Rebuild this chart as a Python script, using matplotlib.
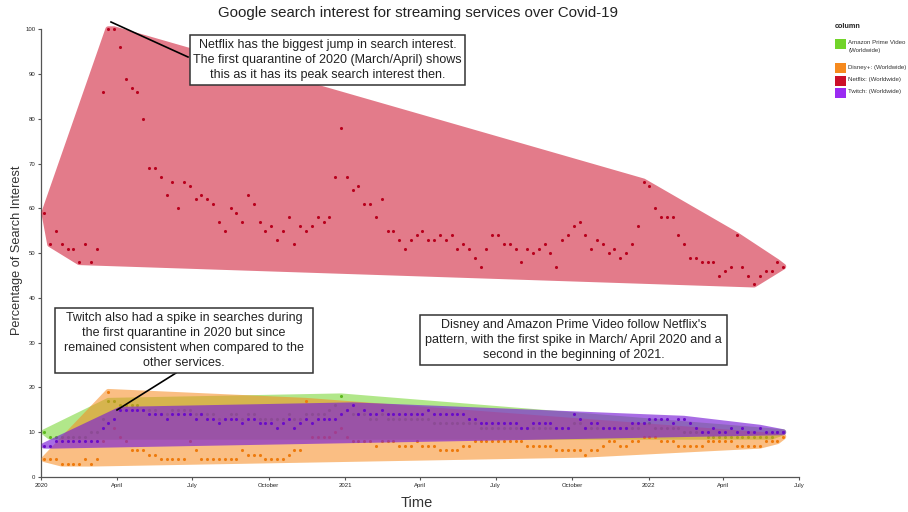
import numpy as np
import pandas as pd
import matplotlib
matplotlib.use("Agg")
import matplotlib.pyplot as plt
import matplotlib.dates as mdates
from matplotlib.patches import Polygon, Rectangle

plt.rcParams['font.family'] = ['Liberation Sans', 'DejaVu Sans']

# weekly Google Trends values, first week starting 2020-01-05
first_week = '2020-01-05'

amazon = [10, 9, 9, 9, 9, 9, 9, 9, 10, 10, 13, 17,
          17, 16, 16, 16, 16, 15, 15, 15, 14, 14, 15, 15,
          15, 15, 14, 14, 14, 14, 13, 13, 14, 14, 13, 14,
          14, 13, 13, 13, 13, 13, 14, 13, 13, 14, 14, 14,
          14, 15, 16, 18, 15, 14, 14, 14, 13, 13, 14, 13,
          13, 13, 13, 13, 13, 13, 13, 12, 12, 12, 12, 12,
          12, 12, 12, 11, 11, 11, 11, 11, 11, 11, 11, 11,
          11, 11, 11, 11, 11, 11, 11, 12, 12, 11, 11, 11,
          11, 11, 11, 11, 11, 11, 11, 12, 12, 11, 11, 11,
          11, 11, 10, 10, 10, 10, 9, 9, 9, 9, 9, 9,
          9, 9, 9, 9, 9, 9, 10, 10]

disney = [4, 4, 4, 3, 3, 3, 3, 4, 3, 4, 8, 19,
          11, 9, 8, 6, 6, 6, 5, 5, 4, 4, 4, 4,
          4, 8, 6, 4, 4, 4, 4, 4, 4, 4, 6, 5,
          5, 5, 4, 4, 4, 4, 5, 6, 6, 17, 9, 9,
          9, 9, 10, 11, 9, 8, 8, 8, 8, 7, 8, 8,
          8, 7, 7, 7, 8, 7, 7, 7, 6, 6, 6, 6,
          7, 7, 8, 8, 8, 8, 8, 8, 8, 8, 8, 7,
          7, 7, 7, 7, 6, 6, 6, 6, 6, 5, 6, 6,
          7, 8, 8, 7, 7, 8, 8, 9, 9, 9, 8, 8,
          8, 7, 7, 7, 7, 7, 8, 8, 8, 8, 8, 7,
          7, 7, 7, 7, 8, 8, 8, 9]

netflix = [59, 52, 55, 52, 51, 51, 48, 52, 48, 51, 86, 100,
           100, 96, 89, 87, 86, 80, 69, 69, 67, 63, 66, 60,
           66, 65, 62, 63, 62, 61, 57, 55, 60, 59, 57, 63,
           61, 57, 55, 56, 53, 55, 58, 52, 56, 55, 56, 58,
           57, 58, 67, 78, 67, 64, 65, 61, 61, 58, 62, 55,
           55, 53, 51, 53, 54, 55, 53, 53, 54, 53, 54, 51,
           52, 51, 49, 47, 51, 54, 54, 52, 52, 51, 48, 51,
           50, 51, 52, 50, 47, 53, 54, 56, 57, 54, 51, 53,
           52, 50, 51, 49, 50, 52, 56, 66, 65, 60, 58, 58,
           58, 54, 52, 49, 49, 48, 48, 48, 45, 46, 47, 54,
           47, 45, 43, 45, 46, 46, 48, 47]

twitch = [7, 7, 8, 8, 8, 8, 8, 8, 8, 8, 11, 12,
          13, 15, 15, 15, 15, 15, 14, 14, 14, 13, 14, 14,
          14, 14, 13, 14, 13, 13, 12, 13, 13, 13, 12, 13,
          13, 12, 12, 12, 11, 12, 13, 11, 12, 13, 12, 13,
          13, 13, 13, 14, 15, 16, 14, 15, 14, 14, 15, 14,
          14, 14, 14, 14, 14, 14, 15, 14, 14, 14, 14, 14,
          14, 13, 13, 12, 12, 12, 12, 12, 12, 12, 11, 11,
          12, 12, 12, 12, 11, 11, 11, 14, 13, 11, 12, 12,
          11, 11, 11, 11, 11, 12, 12, 12, 13, 13, 13, 13,
          12, 13, 13, 12, 11, 10, 10, 11, 10, 10, 11, 10,
          11, 10, 10, 11, 10, 10, 10, 10]

labels = ['Amazon Prime Video\n(Worldwide)', 'Disney+: (Worldwide)',
          'Netflix: (Worldwide)', 'Twitch: (Worldwide)']
fill_colors = ['#72d42a', '#f68a1e', '#cc0f2a', '#7a1fd6']
fill_alpha = [0.55, 0.55, 0.55, 0.65]
legend_colors = ['#72d42a', '#f68a1e', '#cc0f2a', '#9a2bf2']
dot_colors = ['#5cb81c', '#ee7a0c', '#b8001c', '#6a0cc8']

tick_dates = ['2020-01-01', '2020-04-01', '2020-07-01', '2020-10-01',
              '2021-01-01', '2021-04-01', '2021-07-01', '2021-10-01',
              '2022-01-01', '2022-04-01', '2022-07-01']
tick_labels = ['2020', 'April', 'July', 'October', '2021', 'April', 'July',
               'October', '2022', 'April', 'July']


def convex_hull(pts):
    pts = sorted(set(pts))
    def cross(o, a, b):
        return (a[0] - o[0]) * (b[1] - o[1]) - (a[1] - o[1]) * (b[0] - o[0])
    lower, upper = [], []
    for p in pts:
        while len(lower) >= 2 and cross(lower[-2], lower[-1], p) <= 0:
            lower.pop()
        lower.append(p)
    for p in reversed(pts):
        while len(upper) >= 2 and cross(upper[-2], upper[-1], p) <= 0:
            upper.pop()
        upper.append(p)
    return lower[:-1] + upper[:-1]


def padded_hull(x, y, rx, ry):
    ang = np.linspace(0, 2 * np.pi, 20, endpoint=False)
    px = (np.asarray(x)[:, None] + rx * np.cos(ang)).ravel()
    py = (np.asarray(y)[:, None] + ry * np.sin(ang)).ravel()
    return convex_hull(list(zip(np.round(px, 4), np.round(py, 4))))


fig = plt.figure(figsize=(9.08, 5.12), dpi=100)
ax = fig.add_axes([41 / 908, 35 / 512, 758 / 908, 447.7 / 512])

dates = pd.date_range(first_week, periods=len(netflix), freq='7D')
xnum = mdates.date2num(dates)
x0, x1 = mdates.date2num(pd.Timestamp(tick_dates[0])), mdates.date2num(pd.Timestamp(tick_dates[-1]))
ax.set_xlim(x0, x1)
ax.set_ylim(0, 100)

# hull padding of ~3 px in data units
rx = 3.0 * (x1 - x0) / 758
ry = 3.0 * 100 / 447.7

for i, vals in enumerate([amazon, disney, netflix, twitch]):
    poly = Polygon(padded_hull(xnum, vals, rx, ry), closed=True,
                   facecolor=fill_colors[i], edgecolor='none',
                   alpha=fill_alpha[i], zorder=2 + 2 * i, clip_on=False)
    ax.add_patch(poly)
    ax.scatter(xnum, vals, s=5, color=dot_colors[i], linewidths=0,
               zorder=3 + 2 * i, clip_on=False)

for side in ['top', 'right']:
    ax.spines[side].set_visible(False)
for side in ['left', 'bottom']:
    ax.spines[side].set_color('#555555')
    ax.spines[side].set_linewidth(0.9)

ax.set_xticks([mdates.date2num(pd.Timestamp(d)) for d in tick_dates])
ax.set_xticklabels(tick_labels)
ax.set_yticks(range(0, 101, 10))
ax.tick_params(axis='both', labelsize=4.3, length=2.5, width=0.8,
               color='#555555', labelcolor='#222222', pad=1.5)

fig.text(418 / 908, 1 - 13 / 512, 'Google search interest for streaming services over Covid-19',
         ha='center', va='center', fontsize=10.8, color='#222222')
fig.text(417 / 908, 1 - 503 / 512, 'Time', ha='center', va='center',
         fontsize=10.5, color='#333333')
fig.text(17 / 908, 1 - 250 / 512, 'Percentage of Search Interest', ha='center',
         va='center', rotation=90, fontsize=9.2, color='#333333')

# annotation boxes (pixel boxes -> figure fractions)
boxes = [
    ((190, 35, 465, 85), 'Netflix has the biggest jump in search interest.\n'
     'The first quarantine of 2020 (March/April) shows\n'
     'this as it has its peak search interest then.'),
    ((55, 308, 313, 373), 'Twitch also had a spike in searches during\n'
     'the first quarantine in 2020 but since\n'
     'remained consistent when compared to the\n'
     'other services.'),
    ((420, 315, 727, 365), "Disney and Amazon Prime Video follow Netflix's\n"
     'pattern, with the first spike in March/ April 2020 and a\n'
     'second in the beginning of 2021.'),
]
for (l, t, r, b), txt in boxes:
    fig.patches.append(Rectangle((l / 908, 1 - b / 512), (r - l) / 908, (b - t) / 512,
                                 transform=fig.transFigure, facecolor='white',
                                 edgecolor='#333333', linewidth=1.1, zorder=20))
    fig.text((l + r) / 2 / 908, 1 - (t + b) / 2 / 512, txt, ha='center', va='center',
             fontsize=9.0, linespacing=1.3, color='#222222', zorder=21)

# pointer lines (pixel coords -> axes fraction)
def axfrac(px, py):
    return ((px - 41) / 758, (477 - py) / 447.7)

for p0, p1 in [((111, 22), (188, 57)), ((176, 373), (117, 410))]:
    a, b = axfrac(*p0), axfrac(*p1)
    ax.plot([a[0], b[0]], [a[1], b[1]], transform=ax.transAxes, color='black',
            linewidth=1.2, zorder=25, clip_on=False)

# legend, laid out in pixels like the reference
fig.text(835 / 908, 1 - 27 / 512, 'column', fontsize=5.2, fontweight='bold',
         ha='left', va='center', color='#222222')
swatch_tops = [39, 63, 76, 88]
for c, lab, top in zip(legend_colors, labels, swatch_tops):
    fig.patches.append(Rectangle((835 / 908, 1 - (top + 10) / 512), 11 / 908, 10 / 512,
                                 transform=fig.transFigure, facecolor=c,
                                 edgecolor='none'))
    fig.text(848.5 / 908, 1 - (top + 1.5) / 512, lab, fontsize=4.4, ha='left', va='top',
             linespacing=1.7, color='#333333')

fig.savefig('out.png', dpi=100)
